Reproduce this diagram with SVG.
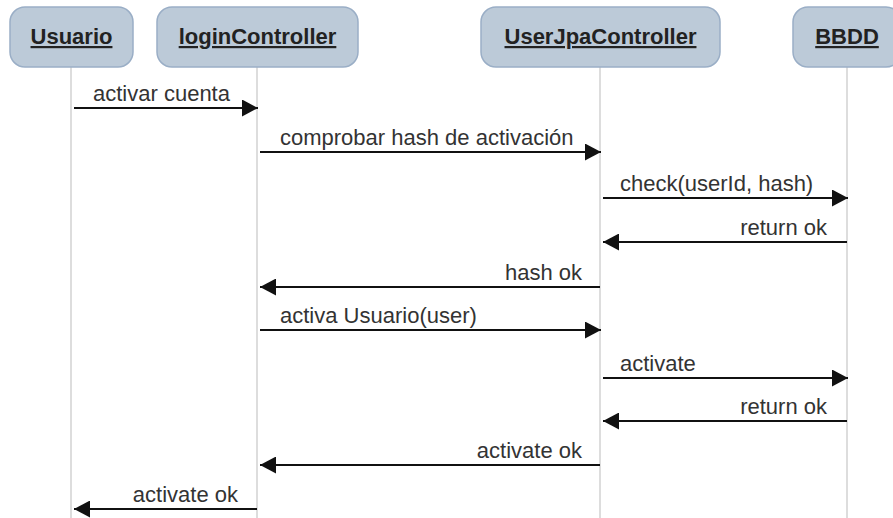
<svg xmlns="http://www.w3.org/2000/svg" width="893" height="518" viewBox="0 0 893 518">
<style>
.box{fill:#bccad8;stroke:#9aaec6;stroke-width:1.5}
.title{font-family:"Liberation Sans",Arial,sans-serif;font-size:22px;font-weight:bold;fill:#222;text-decoration:underline;text-anchor:middle}
.life{stroke:#d2d2d2;stroke-width:1.5}
.msg{stroke:#111;stroke-width:2;fill:none;marker-end:url(#ah)}
.lbl{font-family:"Liberation Sans",Arial,sans-serif;font-size:22px;fill:#333}
.r{text-anchor:end}
</style>
<defs>
<marker id="ah" viewBox="0 0 16 17" refX="16" refY="8.5" markerWidth="16" markerHeight="17" markerUnits="userSpaceOnUse" orient="auto">
<path d="M0,0 L16,8.5 L0,17 z" fill="#111"/>
</marker>
</defs>
<rect width="893" height="518" fill="#fff"/>
<g id="usuario">
<line class="life" x1="71" y1="67" x2="71" y2="518"/>
<rect class="box" x="10" y="7" width="123" height="60" rx="15"/>
<text class="title" x="71.5" y="44">Usuario</text>
</g>
<g id="loginController">
<line class="life" x1="257" y1="67" x2="257" y2="518"/>
<rect class="box" x="157" y="7" width="201" height="60" rx="15"/>
<text class="title" x="257.5" y="44">loginController</text>
</g>
<g id="userJpaController">
<line class="life" x1="600" y1="67" x2="600" y2="518"/>
<rect class="box" x="481" y="7" width="239" height="60" rx="15"/>
<text class="title" x="600.5" y="44">UserJpaController</text>
</g>
<g id="bbdd">
<line class="life" x1="847" y1="67" x2="847" y2="518"/>
<rect class="box" x="793" y="7" width="108" height="60" rx="15"/>
<text class="title" x="847" y="44">BBDD</text>
</g>
<g id="connectors">
<line class="msg" x1="74" y1="108" x2="258" y2="108"/>
<text class="lbl" x="93" y="101">activar cuenta</text>
<line class="msg" x1="260" y1="152" x2="601" y2="152"/>
<text class="lbl" x="280" y="145">comprobar hash de activación</text>
<line class="msg" x1="603" y1="198" x2="848" y2="198"/>
<text class="lbl" x="620" y="191">check(userId, hash)</text>
<line class="msg" x1="847" y1="242" x2="603" y2="242"/>
<text class="lbl r" x="827" y="235">return ok</text>
<line class="msg" x1="600" y1="287" x2="260" y2="287"/>
<text class="lbl r" x="582" y="280">hash ok</text>
<line class="msg" x1="260" y1="330" x2="601" y2="330"/>
<text class="lbl" x="280" y="323">activa Usuario(user)</text>
<line class="msg" x1="603" y1="378" x2="848" y2="378"/>
<text class="lbl" x="620" y="371">activate</text>
<line class="msg" x1="847" y1="421" x2="603" y2="421"/>
<text class="lbl r" x="827" y="414">return ok</text>
<line class="msg" x1="600" y1="465" x2="260" y2="465"/>
<text class="lbl r" x="582" y="458">activate ok</text>
<line class="msg" x1="257" y1="509" x2="74" y2="509"/>
<text class="lbl r" x="238" y="502">activate ok</text>
</g>
</svg>
